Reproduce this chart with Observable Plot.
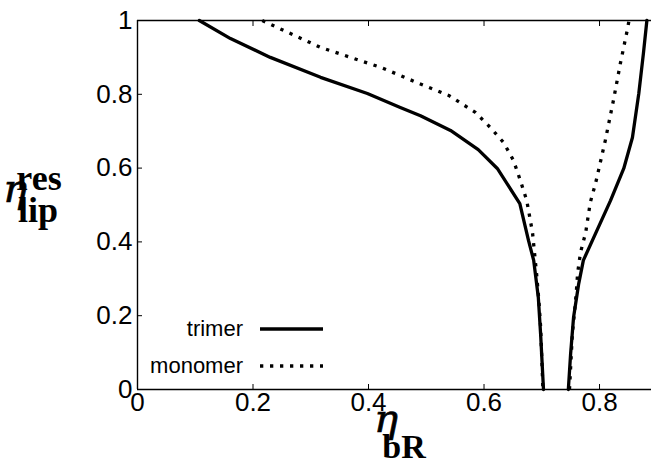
<!DOCTYPE html>
<html><head><meta charset="utf-8">
<script src="https://cdn.jsdelivr.net/npm/d3@7"></script>
<script src="https://cdn.jsdelivr.net/npm/@observablehq/plot@0.6"></script>
<style>body{margin:0;background:#fff} svg{display:block}</style>
</head><body><div id="chart"></div>
<script>
// trimer (solid) — left and right branches
const trimerLeftX  = [0.107, 0.161, 0.230, 0.317, 0.398, 0.455, 0.490, 0.542, 0.590, 0.623, 0.662, 0.677, 0.686, 0.694, 0.698, 0.703];
const trimerLeftY  = [1.000, 0.951, 0.900, 0.846, 0.802, 0.764, 0.742, 0.702, 0.650, 0.599, 0.504, 0.404, 0.350, 0.250, 0.150, 0.000];
const trimerRightX = [0.746, 0.750, 0.755, 0.764, 0.772, 0.819, 0.842, 0.857, 0.868, 0.876, 0.882];
const trimerRightY = [0.000, 0.098, 0.195, 0.287, 0.350, 0.512, 0.599, 0.683, 0.802, 0.911, 1.000];
// monomer (dotted)
const monomerLeftX  = [0.216, 0.317, 0.421, 0.455, 0.488, 0.539, 0.585, 0.611, 0.634, 0.651, 0.663, 0.674, 0.684, 0.691, 0.695, 0.698, 0.702];
const monomerLeftY  = [1.000, 0.927, 0.873, 0.851, 0.829, 0.797, 0.751, 0.710, 0.669, 0.621, 0.566, 0.512, 0.425, 0.314, 0.240, 0.170, 0.000];
const monomerRightX = [0.748, 0.753, 0.757, 0.760, 0.762, 0.767, 0.776, 0.784, 0.793, 0.810, 0.824, 0.836, 0.849, 0.851];
const monomerRightY = [0.000, 0.152, 0.214, 0.268, 0.314, 0.371, 0.425, 0.507, 0.558, 0.675, 0.783, 0.883, 0.981, 1.000];

const xTicks = [0, 0.2, 0.4, 0.6, 0.8];
const yTicks = [0, 0.2, 0.4, 0.6, 0.8, 1];
const seriesNames = ["trimer", "monomer"];

function rows(xs, ys, series, branch) {
  return xs.map((x, i) => ({x, y: ys[i], series, branch: series + branch}));
}
const trimer = [...rows(trimerLeftX, trimerLeftY, "trimer", "L"), ...rows(trimerRightX, trimerRightY, "trimer", "R")];
const monomer = [...rows(monomerLeftX, monomerLeftY, "monomer", "L"), ...rows(monomerRightX, monomerRightY, "monomer", "R")];
const fmt = d => String(d);

const plot = Plot.plot({
  width: 651, height: 466,
  marginLeft: 137, marginRight: 0, marginTop: 20, marginBottom: 77,
  style: {fontFamily: "'Liberation Sans', Arial, sans-serif", fontSize: "26px", color: "#000", background: "#fff"},
  x: {domain: [0, 0.89]},
  y: {domain: [0, 1]},
  marks: [
    Plot.axisX(xTicks, {anchor: "bottom", tickSize: 0, tickPadding: 3, label: null, fontSize: 26, tickFormat: fmt}),
    Plot.axisX(xTicks.slice(1), {anchor: "bottom", tickSize: -5, tickFormat: () => "", label: null}),
    Plot.axisX(xTicks.slice(1), {anchor: "top", tickSize: -5, tickFormat: () => "", label: null}),
    Plot.axisY(yTicks, {anchor: "left", tickSize: 0, tickPadding: 5, label: null, fontSize: 26, tickFormat: fmt}),
    Plot.axisY(yTicks.slice(1, -1), {anchor: "left", tickSize: -5, tickFormat: () => "", label: null}),
    Plot.ruleX([0], {stroke: "#000", strokeWidth: 1.4}),
    Plot.ruleY([0, 1], {stroke: "#000", strokeWidth: 1.4}),
    Plot.line(trimer, {x: "x", y: "y", z: "branch", stroke: "#000", strokeWidth: 3.3}),
    Plot.line(monomer, {x: "x", y: "y", z: "branch", stroke: "#000", strokeWidth: 3.3, strokeDasharray: "3.3,6.7", strokeLinecap: "butt"})
  ]
});
document.getElementById("chart").appendChild(plot);

const svg = d3.select(plot);
// legend
const leg = svg.append("g");
const legendRows = [{name: seriesNames[0], y: 329, dash: null}, {name: seriesNames[1], y: 366, dash: "3.3,6.7"}];
legendRows.forEach(r => {
  leg.append("text").attr("x", 243).attr("y", r.y + 7).attr("text-anchor", "end")
    .attr("font-family", "'Liberation Sans', Arial, sans-serif").attr("font-size", 22).attr("fill", "#000").text(r.name);
  const ln = leg.append("line").attr("x1", 260).attr("x2", 323).attr("y1", r.y).attr("y2", r.y)
    .attr("stroke", "#000").attr("stroke-width", 3.3);
  if (r.dash) ln.attr("stroke-dasharray", r.dash);
});
const serif = "'Liberation Serif', 'Times New Roman', serif";
const greek = "'DejaVu Serif', serif";
// x axis title
svg.append("text").attr("x", 386).attr("y", 432).attr("fill", "#000").attr("stroke", "#000").attr("stroke-width", 0.7)
  .attr("font-family", greek).attr("font-style", "italic").attr("font-size", 40).text("η");
svg.append("text").attr("x", 404).attr("y", 458).attr("fill", "#000").attr("font-family", serif)
  .attr("font-weight", "bold").attr("font-size", 34).text("bR");
// y axis title
svg.append("text").attr("x", 15).attr("y", 202).attr("fill", "#000").attr("stroke", "#000").attr("stroke-width", 0.7)
  .attr("font-family", greek).attr("font-style", "italic").attr("font-size", 40).text("η");
svg.append("text").attr("x", 39).attr("y", 190).attr("fill", "#000").attr("font-family", serif)
  .attr("font-weight", "bold").attr("font-size", 36).text("res");
svg.append("text").attr("x", 38).attr("y", 222).attr("fill", "#000").attr("font-family", serif)
  .attr("font-weight", "bold").attr("font-size", 36).text("lip");
</script>
</body></html>
